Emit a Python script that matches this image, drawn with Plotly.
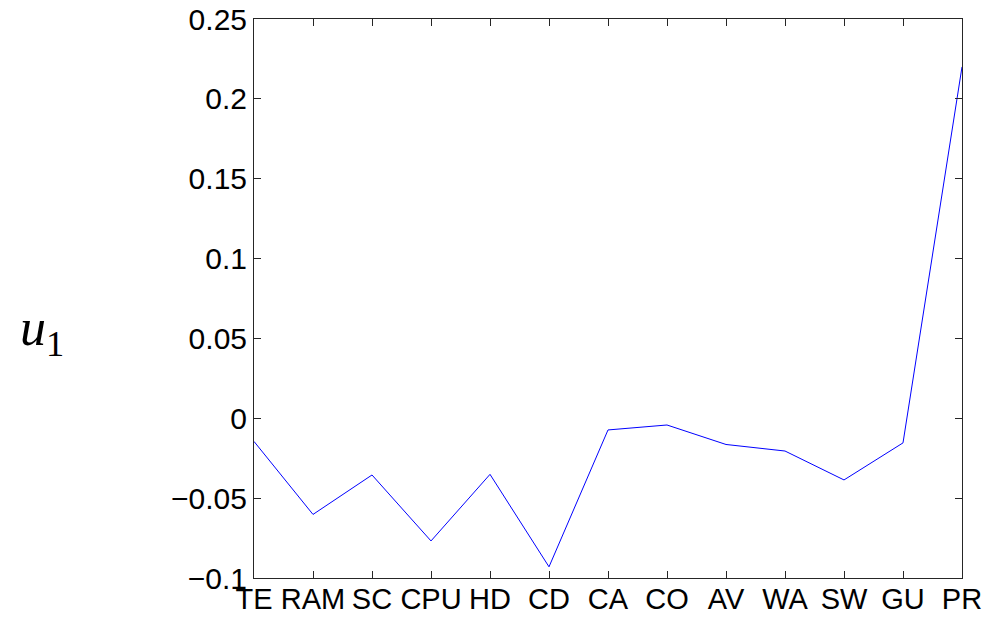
import plotly.graph_objects as go

categories = ["TE", "RAM", "SC", "CPU", "HD", "CD", "CA", "CO", "AV", "WA", "SW", "GU", "PR"]
u1_values = [-0.0145, -0.0602, -0.0355, -0.0768, -0.0351, -0.0930, -0.0073,
             -0.0042, -0.0164, -0.0205, -0.0386, -0.0154, 0.2200]
y_ticks = [-0.1, -0.05, 0, 0.05, 0.1, 0.15, 0.2, 0.25]
y_ticktext = ["\u22120.1", "\u22120.05", "0", "0.05", "0.1", "0.15", "0.2", "0.25"]

fig = go.Figure()
fig.add_trace(go.Scatter(
    x=categories, y=u1_values, mode="lines",
    line=dict(color="#0000ff", width=1),
    showlegend=False,
))

font_family = "Liberation Sans, Arial, Helvetica, sans-serif"
L, R, T, B = 254, 27, 19, 41
fig.update_layout(
    width=989, height=619,
    margin=dict(l=L, r=R, t=T, b=B, autoexpand=False),
    paper_bgcolor="white", plot_bgcolor="white",
    font=dict(family=font_family, size=30, color="black"),
    xaxis=dict(
        type="category", range=[0, 12], automargin=False,
        showgrid=False, zeroline=False,
        showline=True, linecolor="#262626", linewidth=1, mirror="ticks",
        ticks="inside", ticklen=7, tickcolor="#262626", tickwidth=1,
        tickfont=dict(size=29, family=font_family),
        ticklabelstandoff=-5,
    ),
    yaxis=dict(
        range=[-0.1, 0.25], automargin=False,
        tickvals=y_ticks, ticktext=y_ticktext,
        showgrid=False, zeroline=False,
        showline=True, linecolor="#262626", linewidth=1, mirror="ticks",
        ticks="inside", ticklen=7, tickcolor="#262626", tickwidth=1,
        tickfont=dict(size=30, family=font_family),
    ),
)
pw = 989 - L - R
ph = 619 - T - B
fig.add_annotation(
    text="<i>u</i><sub>1</sub>",
    x=(42 - L) / pw, y=(619 - B - 331) / ph, xref="paper", yref="paper",
    xanchor="center", yanchor="middle",
    showarrow=False,
    font=dict(family="Liberation Serif, DejaVu Serif, serif", size=52, color="black"),
)

fig.write_html("out.html")
